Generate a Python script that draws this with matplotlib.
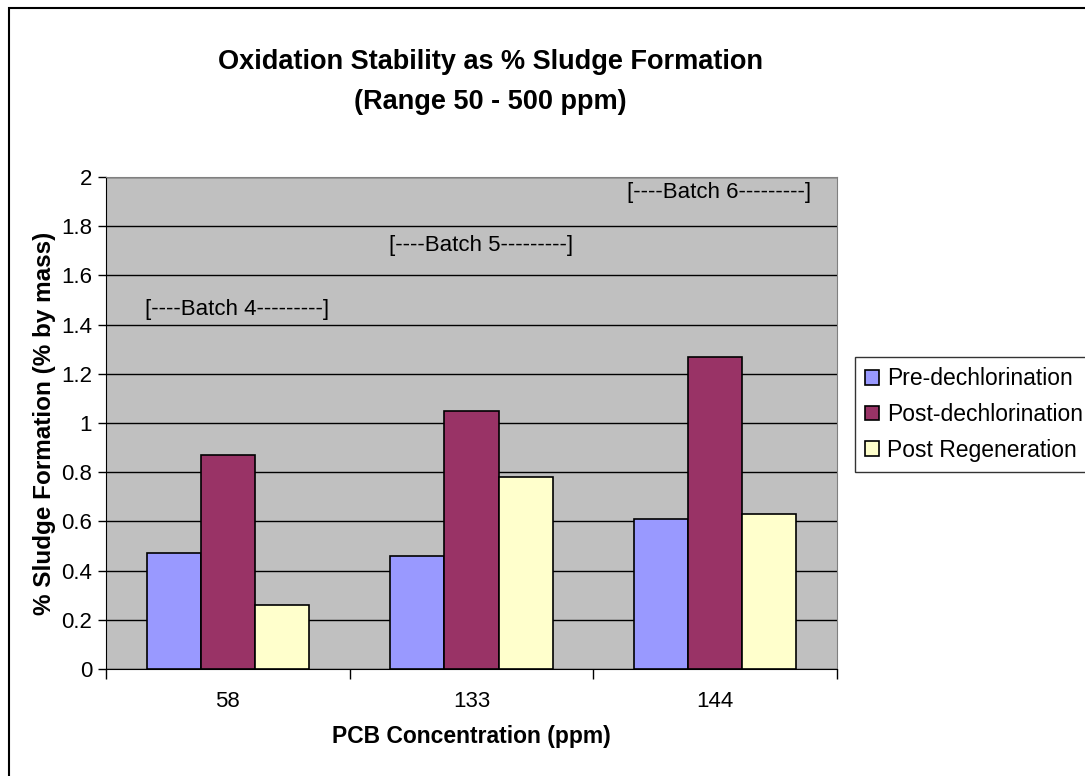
import numpy as np
import matplotlib
matplotlib.use('Agg')
import matplotlib.pyplot as plt
from matplotlib.patches import Rectangle

plt.rcParams['font.family'] = ['Liberation Sans', 'DejaVu Sans']

# Data
concentrations = ['58', '133', '144']
pre_dechlorination = [0.47, 0.46, 0.61]
post_dechlorination = [0.87, 1.05, 1.27]
post_regeneration = [0.26, 0.78, 0.63]
series_names = ['Pre-dechlorination', 'Post-dechlorination', 'Post Regeneration']
series_colors = ['#9999FF', '#993366', '#FFFFCC']
batch_labels = ['[----Batch 4---------]', '[----Batch 5---------]', '[----Batch 6---------]']
batch_x = [-0.34, 0.66, 1.64]
batch_y = [1.46, 1.72, 1.935]

fig = plt.figure(figsize=(10.85, 7.76), dpi=100)
ax = fig.add_axes([106 / 1085, 1 - 669 / 776, (837 - 106) / 1085, (669 - 177) / 776])

# outer chart border
fig.patches.append(Rectangle((8.5 / 1085, -0.05), 1.1, 1 - 8.5 / 776 + 0.05,
                             transform=fig.transFigure, fill=False,
                             edgecolor='black', linewidth=1.5))

ax.set_facecolor('#C0C0C0')
x = np.arange(len(concentrations))
width = 0.222
all_series = [pre_dechlorination, post_dechlorination, post_regeneration]
for i, (vals, name, col) in enumerate(zip(all_series, series_names, series_colors)):
    ax.bar(x + (i - 1) * width, vals, width, color=col, edgecolor='black',
           linewidth=1.2, label=name, zorder=3)

ax.set_xlim(-0.5, 2.5)
ax.set_ylim(0, 2)
ax.set_yticks(np.arange(0, 2.01, 0.2))
ax.set_yticklabels(['0', '0.2', '0.4', '0.6', '0.8', '1', '1.2', '1.4', '1.6', '1.8', '2'])
ax.yaxis.grid(True, color='black', linewidth=1, zorder=1)
ax.set_axisbelow(True)

ax.set_xticks(x)
ax.set_xticklabels(concentrations)
ax.set_xticks([0.5, 1.5, 2.5, -0.5], minor=True)
ax.tick_params(axis='x', which='major', length=0, pad=16, labelsize=16)
ax.tick_params(axis='x', which='minor', length=7, width=1)
ax.tick_params(axis='y', length=6, width=1, labelsize=16, pad=4)

for side in ['top', 'right']:
    ax.spines[side].set_color('#808080')
ax.spines['left'].set_color('black')
ax.spines['bottom'].set_color('black')

for lbl, bx, by in zip(batch_labels, batch_x, batch_y):
    ax.text(bx, by, lbl, fontsize=16, ha='left', va='center', zorder=4)

ax.set_xlabel('PCB Concentration (ppm)', fontsize=16.5, fontweight='bold', labelpad=9)
ax.set_ylabel('% Sludge Formation (% by mass)', fontsize=17.5, fontweight='bold', labelpad=4)

fig.text(490 / 1085, 1 - 62 / 776, 'Oxidation Stability as % Sludge Formation',
         fontsize=19.5, fontweight='bold', ha='center', va='center')
fig.text(490 / 1085, 1 - 102 / 776, '(Range 50 - 500 ppm)',
         fontsize=19.5, fontweight='bold', ha='center', va='center')

leg = fig.legend(loc='upper left', bbox_to_anchor=(855 / 1085, 1 - 357 / 776),
                 fontsize=16.5, frameon=True, fancybox=False, edgecolor='black',
                 handlelength=0.6, handleheight=0.6, handletextpad=0.35,
                 labelspacing=0.55, borderpad=0.45, borderaxespad=0)
leg.get_frame().set_linewidth(1)

fig.savefig('out.png', dpi=100)
